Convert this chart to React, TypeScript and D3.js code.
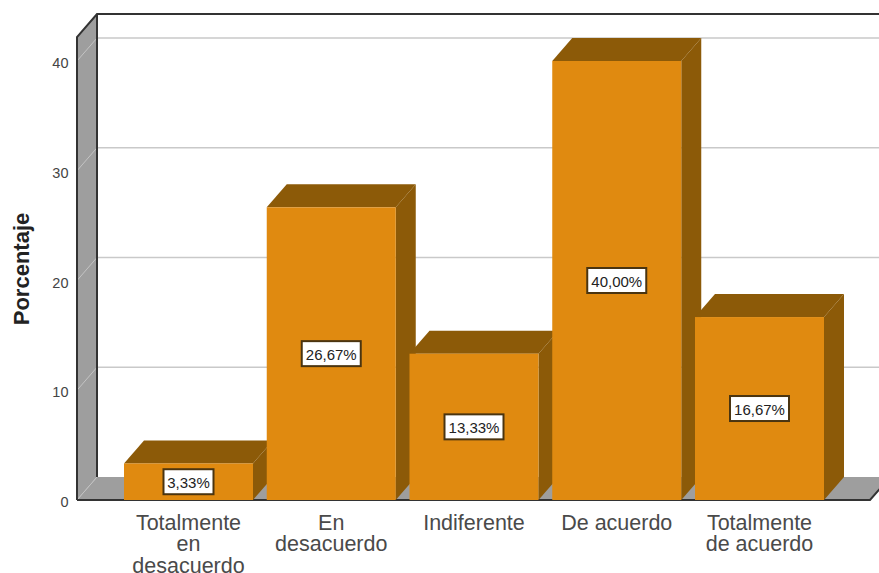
import React from "react";
import * as d3 from "d3";

const categories = ["Totalmente en desacuerdo", "En desacuerdo", "Indiferente", "De acuerdo", "Totalmente de acuerdo"];
const categoryLines = [["Totalmente", "en", "desacuerdo"], ["En", "desacuerdo"], ["Indiferente"], ["De acuerdo"], ["Totalmente", "de acuerdo"]];
const percentages = [3.33, 26.67, 13.33, 40.0, 16.67];
const valueLabels = ["3,33%", "26,67%", "13,33%", "40,00%", "16,67%"];
const yTicks = [0, 10, 20, 30, 40];

const WIDTH = 879;
const HEIGHT = 573;
const DEPTH_X = 20;
const DEPTH_Y = 23;
const FRONT_LEFT = 77;
const FRONT_RIGHT = 870;
const TOP_BACK = 14;

const FONT = "'Liberation Sans', Arial, sans-serif";
const ORANGE = "#e08a10";
const BROWN = "#8c5a08";
const WALL = "#9e9e9e";
const FRAME = "#333333";
const GRID = "#c9c9c9";

const y = d3.scaleLinear().domain([0, 40]).range([500, 61]);
const x = d3.scaleBand<string>().domain(categories).range([110.25, 837.75]).padding(0.0963);

const poly = (pts: [number, number][]) => d3.line()(pts) + "Z";

export default function App() {
  const base = y(0);
  const bw = x.bandwidth();
  return (
    <svg
      width={WIDTH}
      height={HEIGHT}
      viewBox={`0 0 ${WIDTH} ${HEIGHT}`}
      style={{ position: "absolute", left: 0, top: 0, background: "#fff" }}
      fontFamily={FONT}
    >
      {/* Side wall and floor of the 3D frame */}
      <path
        d={poly([
          [FRONT_LEFT, TOP_BACK + DEPTH_Y],
          [FRONT_LEFT + DEPTH_X, TOP_BACK],
          [FRONT_LEFT + DEPTH_X, base - DEPTH_Y],
          [FRONT_LEFT, base],
        ])}
        fill={WALL}
      />
      <path
        d={poly([
          [FRONT_LEFT, base],
          [FRONT_LEFT + DEPTH_X, base - DEPTH_Y],
          [FRONT_RIGHT + DEPTH_X, base - DEPTH_Y],
          [FRONT_RIGHT, base],
        ])}
        fill={WALL}
      />

      {/* Gridlines on the back wall, continuing across the side wall */}
      {yTicks.map((t) => (
        <g key={t}>
          {t > 0 && (
            <line
              x1={FRONT_LEFT + DEPTH_X}
              x2={WIDTH}
              y1={y(t) - DEPTH_Y}
              y2={y(t) - DEPTH_Y}
              stroke={GRID}
              strokeWidth={1.5}
            />
          )}
          <line
            x1={FRONT_LEFT}
            x2={FRONT_LEFT + DEPTH_X}
            y1={y(t)}
            y2={y(t) - DEPTH_Y}
            stroke="#c4c4c4"
            strokeWidth={1}
          />
        </g>
      ))}

      {/* Frame edges */}
      <path
        d={`M${FRONT_LEFT},${base}V${TOP_BACK + DEPTH_Y}L${FRONT_LEFT + DEPTH_X},${TOP_BACK}H${WIDTH}`}
        fill="none"
        stroke={FRAME}
        strokeWidth={2}
      />
      <path d={`M${FRONT_LEFT + DEPTH_X},${TOP_BACK}V${base - DEPTH_Y}`} fill="none" stroke={FRAME} strokeWidth={2} />
      <path
        d={`M${FRONT_LEFT},${base}H${FRONT_RIGHT}L${FRONT_RIGHT + DEPTH_X},${base - DEPTH_Y}`}
        fill="none"
        stroke={FRAME}
        strokeWidth={2}
      />

      {/* Bars: top face, right face, front face */}
      {categories.map((c, i) => {
        const x0 = x(c)!;
        const x1 = x0 + bw;
        const top = y(percentages[i]);
        return (
          <g key={c}>
            <path
              d={poly([
                [x0, top],
                [x0 + DEPTH_X, top - DEPTH_Y],
                [x1 + DEPTH_X, top - DEPTH_Y],
                [x1, top],
              ])}
              fill={BROWN}
            />
            <path
              d={poly([
                [x1, top],
                [x1 + DEPTH_X, top - DEPTH_Y],
                [x1 + DEPTH_X, base - DEPTH_Y],
                [x1, base],
              ])}
              fill={BROWN}
            />
            <rect x={x0} y={top} width={bw} height={base - top} fill={ORANGE} />
          </g>
        );
      })}

      {/* Value labels centred on each bar */}
      {categories.map((c, i) => {
        const cx = x(c)! + bw / 2;
        const cy = y(percentages[i] / 2);
        const boxW = valueLabels[i].length > 5 ? 59 : 50;
        return (
          <g key={c}>
            <rect x={cx - boxW / 2} y={cy - 12.5} width={boxW} height={25} fill="#fff" stroke="#4a3410" strokeWidth={2} />
            <text x={cx} y={cy + 6} textAnchor="middle" fontSize={15} fill="#222">
              {valueLabels[i]}
            </text>
          </g>
        );
      })}

      {/* Y axis */}
      {yTicks.map((t) => (
        <text key={t} x={68.5} y={y(t) + 7} textAnchor="end" fontSize={14.5} fill="#444">
          {t}
        </text>
      ))}
      <text
        transform="translate(29,269) rotate(-90)"
        textAnchor="middle"
        fontSize={22}
        fontWeight="bold"
        fill="#222"
      >
        Porcentaje
      </text>

      {/* Category labels */}
      {categories.map((c, i) => (
        <text key={c} textAnchor="middle" fontSize={21.5} fill="#4a4a4a">
          {categoryLines[i].map((line, j) => (
            <tspan key={line} x={x(c)! + bw / 2} y={529.5 + j * 21.5}>
              {line}
            </tspan>
          ))}
        </text>
      ))}
    </svg>
  );
}
